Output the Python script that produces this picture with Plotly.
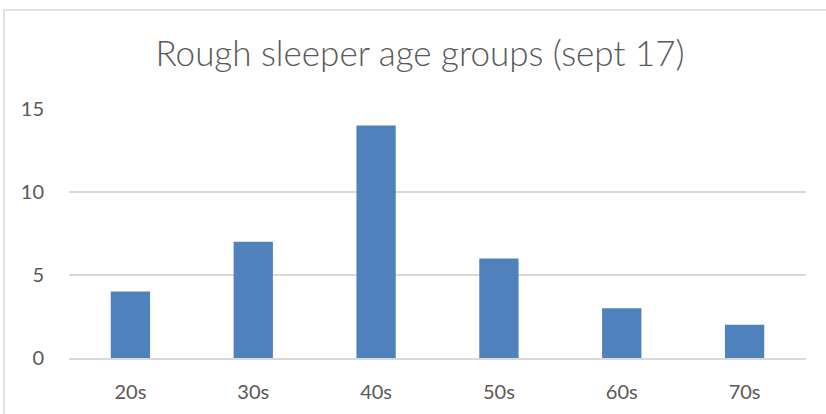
import plotly.graph_objects as go

categories = ["20s", "30s", "40s", "50s", "60s", "70s"]
counts = [4, 7, 14, 6, 3, 2]
y_ticks = [0, 5, 10, 15]

W, H = 826, 414
ML, MR, MT, MB = 69, 20, 109, 56
pw, ph = W - ML - MR, H - MT - MB

fig = go.Figure(go.Bar(
    x=categories, y=counts, width=0.32,
    marker=dict(color="#4f81bd", line=dict(width=0)),
))

# outer chart frame (left/top edges visible; right/bottom run off the page)
fx0 = (4 - ML) / pw
fx1 = (W + 5 - ML) / pw
fy1 = (H - 10 - MB) / ph
fy0 = (-10 - MB) / ph
fig.add_shape(type="rect", xref="paper", yref="paper",
              x0=fx0, x1=fx1, y0=fy0, y1=fy1,
              line=dict(color="#d9d9d9", width=1.5), layer="below")

fig.update_layout(
    width=W, height=H,
    margin=dict(l=ML, r=MR, t=MT, b=MB, autoexpand=False),
    paper_bgcolor="white", plot_bgcolor="white",
    showlegend=False,
    title=dict(text="Rough sleeper age groups (sept 17)",
               x=(420 - ML) / pw, xref="paper", xanchor="center",
               y=1 - 54 / H, yanchor="middle",
               font=dict(family="Lato, sans-serif", size=35, color="#595959",
                         weight=300)),
    font=dict(family="Lato, sans-serif", size=20, color="#595959"),
)
fig.update_xaxes(showgrid=False, showline=True, linecolor="#d9d9d9", linewidth=1.5,
                 automargin=False,
                 ticks="", tickfont=dict(size=20, color="#595959"), ticklabelstandoff=15)
fig.update_yaxes(range=[0, 15], tickvals=y_ticks, showgrid=True, gridcolor="#d9d9d9",
                 gridwidth=1.5, zeroline=False, showline=False, ticks="", automargin=False,
                 tickfont=dict(size=20, color="#595959"), ticklabelstandoff=24)

fig.write_html("out.html")
